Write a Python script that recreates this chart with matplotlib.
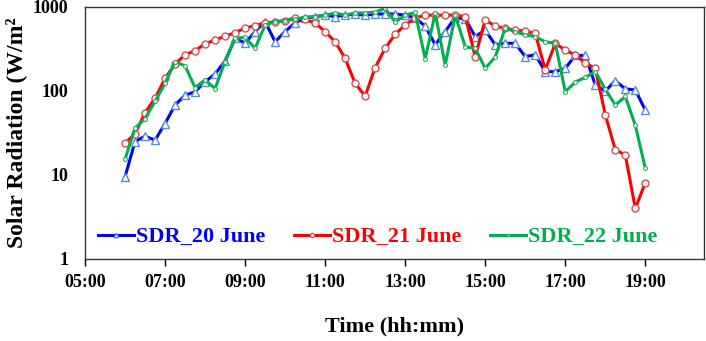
import numpy as np
import matplotlib
matplotlib.use("Agg")
import matplotlib.pyplot as plt
from matplotlib.ticker import FixedLocator, FuncFormatter, NullLocator

plt.rcParams['font.family'] = ['Liberation Serif', 'DejaVu Serif']
plt.rcParams['font.weight'] = 'bold'

# 15-min readings, 06:00 .. 19:00 (hours)
time_h = np.arange(6, 19.01, 0.25)

sdr_20 = [9.5, 25, 29, 26, 41, 68, 89, 98, 129, 159, 228, 424,
          372, 510, 670, 385, 510, 650, 735, 765, 800, 770, 800, 820,
          800, 820, 830, 825, 800, 740, 590, 355, 510, 750, 720, 445,
          530, 355, 370, 370, 256, 270, 170, 170, 186, 265, 265, 118,
          100, 132, 106, 103, 59]
sdr_21 = [24, 31, 55, 82, 141, 210, 269, 302, 364, 405, 450, 495,
          560, 600, 650, 660, 690, 740, 715, 640, 510, 385, 244, 123,
          87, 190, 322, 475, 610, 740, 800, 800, 800, 800, 770, 256,
          705, 590, 560, 530, 515, 485, 178, 370, 305, 269, 215, 186,
          52, 20, 17.3, 4.0, 8.1]
sdr_22 = [15.4, 36, 47, 75, 123, 224, 199, 110, 135, 107, 224, 424,
          435, 322, 610, 670, 690, 715, 760, 770, 800, 845, 800, 850,
          850, 870, 960, 660, 800, 860, 242, 845, 204, 800, 336, 322,
          186, 254, 560, 510, 465, 445, 385, 370, 98, 128, 145, 170,
          105, 68, 86, 39, 12]

labels = ['SDR_20 June', 'SDR_21 June', 'SDR_22 June']
x_ticks = [5, 7, 9, 11, 13, 15, 17, 19]
y_ticks = [1, 10, 100, 1000]

fig = plt.figure(figsize=(7.06, 3.41), dpi=100)
ax = fig.add_axes([0.1204, 0.2405, 0.877, 0.739])

ax.plot(time_h, sdr_20, color='#0000FF', lw=2.2, marker='^', ms=5.5,
        mfc='white', mec='#5B8BD0', mew=1.0, label=labels[0])
ax.plot(time_h, sdr_21, color='#FF0000', lw=2.2, marker='o', ms=5,
        mfc='white', mec='#D05050', mew=1.0, label=labels[1])
ax.plot(time_h, sdr_22, color='#00B050', lw=2.2, marker='o', ms=2.8,
        mfc='white', mec='#30B060', mew=0.8, label=labels[2])

ax.set_yscale('log')
ax.set_ylim(1, 1000)
ax.set_xlim(5, 20.47)
ax.yaxis.set_major_locator(FixedLocator(y_ticks))
ax.yaxis.set_minor_locator(NullLocator())
ax.yaxis.set_major_formatter(FuncFormatter(lambda v, p: '%d' % v))
ax.xaxis.set_major_locator(FixedLocator(x_ticks))
ax.xaxis.set_major_formatter(FuncFormatter(lambda v, p: '%02d:00' % v))
ax.tick_params(axis='x', direction='out', length=5, width=1, labelsize=13, pad=6)
ax.tick_params(axis='y', length=0, labelsize=13, pad=12)

for s in ax.spines.values():
    s.set_color('#333333')
    s.set_linewidth(1.0)

# closing bracket is cut off in the original figure
ax.set_xlabel('Time (hh:mm)', fontsize=16, fontweight='bold', labelpad=18)
ax.set_ylabel('Solar Radiation (W/m²', fontsize=17, fontweight='bold')
ax.yaxis.set_label_coords(-0.094, 0.502)

leg = ax.legend(loc='center', bbox_to_anchor=(0.473, 0.087), ncol=3,
                frameon=False, fontsize=16, handlelength=1.6,
                handletextpad=0.1, columnspacing=1.3, borderaxespad=0,
                markerscale=0.6)
for t, c in zip(leg.get_texts(), ['#0000FF', '#FF0000', '#00B050']):
    t.set_color(c)

fig.savefig('out.png', dpi=100)
